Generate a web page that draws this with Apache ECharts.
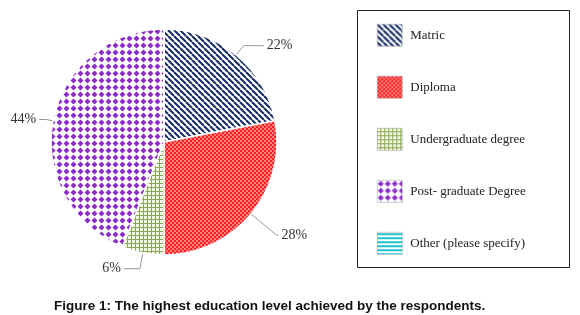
<!DOCTYPE html>
<html><head><meta charset="utf-8">
<script src="https://cdn.jsdelivr.net/npm/echarts@6/dist/echarts.min.js"></script>
<style>html,body{margin:0;padding:0;background:#fff}#c{width:580px;height:315px}</style>
</head><body><div id="c"></div>
<script>
const categories = ['Matric', 'Diploma', 'Undergraduate degree', 'Post- graduate Degree', 'Other (please specify)'];
const values = [22, 28, 6, 44, 0];
const caption = 'Figure 1: The highest education level achieved by the respondents.';

function mk(w, h, draw) {
  const c = document.createElement('canvas');
  c.width = w; c.height = h;
  const g = c.getContext('2d');
  draw(g, w, h);
  return { image: c, repeat: 'repeat' };
}
const patStripe = mk(6, 6, (g) => {
  g.fillStyle = '#ffffff'; g.fillRect(0, 0, 6, 6);
  g.strokeStyle = '#142a66'; g.lineWidth = 2;
  for (let k = -12; k <= 12; k += 6) { g.beginPath(); g.moveTo(k, 0); g.lineTo(k + 6, 6); g.stroke(); }
});
const patRed = mk(4, 4, (g) => {
  g.fillStyle = '#ff1f1f'; g.fillRect(0, 0, 4, 4);
  g.fillStyle = '#ff8080'; g.fillRect(0, 0, 2, 2); g.fillRect(2, 2, 2, 2);
});
const patGreen = mk(4, 4, (g) => {
  g.fillStyle = '#f4f8ea'; g.fillRect(0, 0, 4, 4);
  g.fillStyle = '#88a850'; g.fillRect(0, 3, 4, 1); g.fillRect(3, 0, 1, 4);
});
const patPurple = mk(7, 7, (g) => {
  g.fillStyle = '#ffffff'; g.fillRect(0, 0, 7, 7);
  g.fillStyle = '#8a2cc8';
  g.beginPath(); g.moveTo(3.5, 0.5); g.lineTo(6.5, 3.5); g.lineTo(3.5, 6.5); g.lineTo(0.5, 3.5); g.closePath(); g.fill();
});
const patCyan = mk(4, 4, (g) => {
  g.fillStyle = '#ffffff'; g.fillRect(0, 0, 4, 4);
  g.fillStyle = '#1cc4cc'; g.fillRect(0, 1, 4, 2);
});
const fills = [patStripe, patRed, patGreen, patPurple, patCyan];

function leader(i) {
  if (i === 0) return { length: 12, length2: 20 };
  if (i === 1) return { length: 33, length2: 2 };
  if (i === 2) return { length: 16, length2: 16 };
  if (i === 3) return { length: 7, length2: 7 };
  return { show: false };
}

const chart = echarts.init(document.getElementById('c'), null, { renderer: 'canvas' });
chart.setOption({
  animation: false,
  backgroundColor: '#ffffff',
  title: {
    text: caption, left: 49, top: 294,
    textStyle: { fontFamily: 'Liberation Sans, Arial', fontWeight: 'bold', fontSize: 13.5, color: '#111' }
  },
  graphic: [{
    type: 'rect', shape: { x: 357.5, y: 10.5, width: 212, height: 257 },
    style: { fill: 'none', stroke: '#222', lineWidth: 1 }, silent: true
  }],
  legend: {
    orient: 'vertical', left: 372, top: 19,
    icon: 'rect',
    itemWidth: 25, itemHeight: 22, itemGap: 29.5,
    data: categories,
    textStyle: { fontFamily: 'Liberation Serif, Times New Roman', fontSize: 13, color: '#222', padding: [0, 0, 0, 3] },
    itemStyle: { borderColor: '#999', borderWidth: 0.5 }
  },
  series: [{
    type: 'pie', center: [164, 142], radius: 113, startAngle: 90, clockwise: true,
    stillShowZeroSum: false,
    itemStyle: { borderColor: '#ffffff', borderWidth: 1.5 },
    label: {
      show: true, position: 'outside', formatter: '{c}%', overflow: 'none', distanceToLabelLine: 3,
      fontFamily: 'Liberation Serif, Times New Roman', fontSize: 14, color: '#333'
    },
    labelLine: { show: true, lineStyle: { color: '#999', width: 1 } },
    data: categories.map((n, i) => ({
      name: n, value: values[i], itemStyle: { color: fills[i] },
      label: values[i] === 0 ? { show: false } : undefined,
      labelLine: values[i] === 0 ? { show: false } : leader(i)
    }))
  }]
});
</script></body></html>
